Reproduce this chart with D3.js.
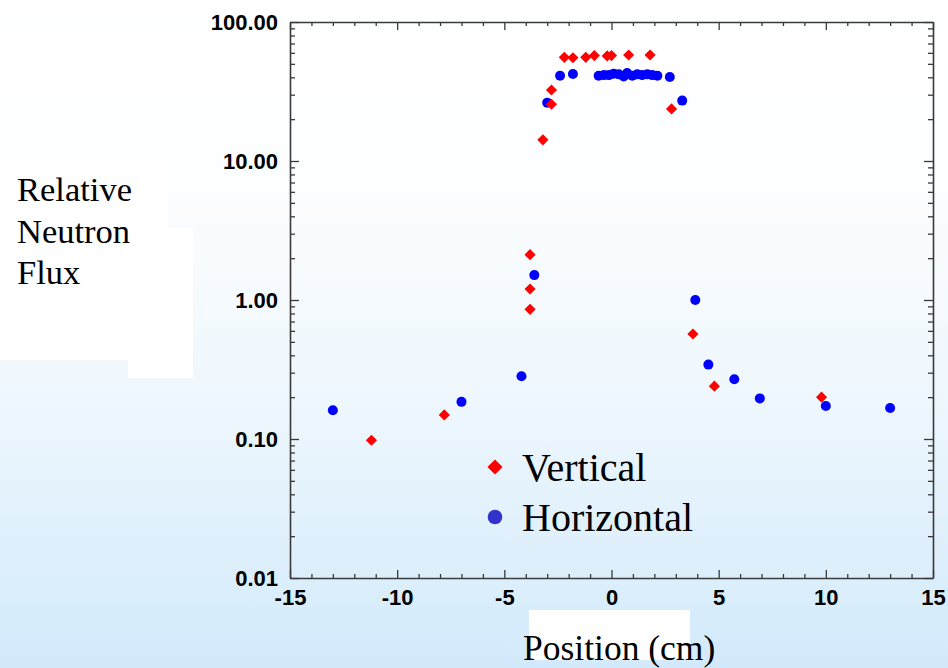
<!DOCTYPE html>
<html>
<head>
<meta charset="utf-8">
<script src="https://cdn.jsdelivr.net/npm/d3@7"></script>
<style>
  html, body { margin: 0; padding: 0; overflow: hidden; }
  svg { display: block; }
</style>
</head>
<body>
<script>
// ---- Data ----
const vertX = [-11.2, -7.8, -3.8, -3.8, -3.8, -3.2, -2.8, -2.8, -2.2, -1.8, -1.2, -0.8, -0.2, 0.0, 0.8, 1.8, 2.8, 3.8, 4.8, 9.8];
const vertY = [0.098, 0.149, 2.12, 1.2, 0.857, 14.2, 25.6, 32.4, 55.7, 55.3, 55.7, 57.3, 57.0, 57.3, 57.9, 57.9, 23.7, 0.569, 0.24, 0.2];

const horizX = [-13.0, -7.0, -4.2, -3.6, -3.0, -2.4, -1.8, -0.6, -0.35, -0.12, 0.1, 0.34, 0.57, 0.73, 0.97, 1.2, 1.43, 1.67, 1.9, 2.14, 2.72, 3.3, 3.91, 4.52, 5.73, 6.92, 10.0, 13.0];
const horizY = [0.161, 0.185, 0.283, 1.51, 26.3, 41.1, 42.3, 41.0, 41.5, 41.5, 42.5, 42.0, 40.5, 43.0, 41.0, 42.0, 41.5, 42.0, 41.5, 41.0, 40.2, 27.2, 1.0, 0.343, 0.269, 0.196, 0.173, 0.167];

const xMajorTicks = [-15, -10, -5, 0, 5, 10, 15];
const yMajorTicks = [0.01, 0.1, 1, 10, 100];
const legendLabels = ["Vertical", "Horizontal"];
const yTitleLines = ["Relative", "Neutron", "Flux"];
const xTitle = "Position (cm)";

// ---- Layout ----
const W = 948, H = 668;
const mLeft = 290, mRight = 933, mTop = 22, mBottom = 578;

const svg = d3.select("body").append("svg").attr("width", W).attr("height", H);

// background gradient
const defs = svg.append("defs");
const grad = defs.append("linearGradient").attr("id", "bg").attr("x1", 0).attr("y1", 0).attr("x2", 0).attr("y2", 1);
grad.append("stop").attr("offset", "0%").attr("stop-color", "#ffffff");
grad.append("stop").attr("offset", "25%").attr("stop-color", "#fdfeff");
grad.append("stop").attr("offset", "60%").attr("stop-color", "#eef7fd");
grad.append("stop").attr("offset", "100%").attr("stop-color", "#d2eafb");
svg.append("rect").attr("width", W).attr("height", H).attr("fill", "url(#bg)");

// white patches behind titles
svg.append("rect").attr("x", 0).attr("y", 155).attr("width", 168).attr("height", 205).attr("fill", "#fff");
svg.append("rect").attr("x", 0).attr("y", 228).attr("width", 193).attr("height", 132).attr("fill", "#fff");
svg.append("rect").attr("x", 128).attr("y", 228).attr("width", 65).attr("height", 150).attr("fill", "#fff");
svg.append("rect").attr("x", 529).attr("y", 610).attr("width", 161).attr("height", 50).attr("fill", "#fff");

// ---- Scales ----
const x = d3.scaleLinear().domain([-15, 15]).range([mLeft, mRight]);
const y = d3.scaleLog().domain([0.01, 100]).range([mBottom, mTop]);

const xMinor = d3.range(-15, 16, 1).filter(v => v % 5 !== 0);
const yMinor = [];
[0.01, 0.1, 1, 10].forEach(d => { for (let k = 2; k <= 9; k++) yMinor.push(d * k); });

const axisColor = "#3a3a3a";
function styleAxis(g) {
  g.selectAll("path.domain").attr("stroke", axisColor).attr("stroke-width", 1.6);
  g.selectAll(".tick line").attr("stroke", axisColor).attr("stroke-width", 1.3);
  g.selectAll("text").attr("font-family", "'Liberation Sans', Arial, sans-serif")
    .attr("font-weight", "bold").attr("font-size", 22).attr("fill", "#000");
}

// Bottom
svg.append("g").attr("transform", `translate(0,${mBottom})`)
  .call(d3.axisBottom(x).tickValues(xMinor).tickSizeInner(-4).tickSizeOuter(0).tickFormat(""))
  .call(g => g.select("path.domain").remove())
  .call(styleAxis);
svg.append("g").attr("transform", `translate(0,${mBottom})`)
  .call(d3.axisBottom(x).tickValues(xMajorTicks).tickSizeInner(-8).tickSizeOuter(0).tickPadding(11).tickFormat(d => String(d)))
  .call(styleAxis);
// Top
svg.append("g").attr("transform", `translate(0,${mTop})`)
  .call(d3.axisTop(x).tickValues(xMinor).tickSizeInner(-4).tickSizeOuter(0).tickFormat(""))
  .call(g => g.select("path.domain").remove())
  .call(styleAxis);
svg.append("g").attr("transform", `translate(0,${mTop})`)
  .call(d3.axisTop(x).tickValues(xMajorTicks).tickSizeInner(-8).tickSizeOuter(0).tickFormat(""))
  .call(styleAxis);
// Left
svg.append("g").attr("transform", `translate(${mLeft},0)`)
  .call(d3.axisLeft(y).tickValues(yMinor).tickSizeInner(-5).tickSizeOuter(0).tickFormat(""))
  .call(g => g.select("path.domain").remove())
  .call(styleAxis);
svg.append("g").attr("transform", `translate(${mLeft},0)`)
  .call(d3.axisLeft(y).tickValues(yMajorTicks).tickSizeInner(-9).tickSizeOuter(0).tickPadding(12).tickFormat(d3.format(".2f")))
  .call(styleAxis);
// Right
svg.append("g").attr("transform", `translate(${mRight},0)`)
  .call(d3.axisRight(y).tickValues(yMinor).tickSizeInner(-5).tickSizeOuter(0).tickFormat(""))
  .call(g => g.select("path.domain").remove())
  .call(styleAxis);
svg.append("g").attr("transform", `translate(${mRight},0)`)
  .call(d3.axisRight(y).tickValues(yMajorTicks).tickSizeInner(-9).tickSizeOuter(0).tickFormat(""))
  .call(styleAxis);

// ---- Points ----
const horiz = horizX.map((v, i) => ({ x: v, y: horizY[i] }));
const vert = vertX.map((v, i) => ({ x: v, y: vertY[i] }));

svg.append("g").selectAll("circle").data(horiz).join("circle")
  .attr("cx", d => x(d.x)).attr("cy", d => y(d.y)).attr("r", 5)
  .attr("fill", "#0000ff");

const diamond = d3.symbol().type(d3.symbolSquare).size(62);
svg.append("g").selectAll("path").data(vert).join("path")
  .attr("d", diamond)
  .attr("transform", d => `translate(${x(d.x)},${y(d.y)}) rotate(45)`)
  .attr("fill", "#ff0000");

// ---- Legend ----
const lg = svg.append("g");
lg.append("path").attr("d", d3.symbol().type(d3.symbolSquare).size(115)())
  .attr("transform", "translate(495,467) rotate(45)").attr("fill", "#ff0000");
lg.append("circle").attr("cx", 495).attr("cy", 517).attr("r", 7.3).attr("fill", "#3333cc");
lg.selectAll("text").data(legendLabels).join("text")
  .attr("x", 522).attr("y", (d, i) => 481 + i * 50)
  .attr("font-family", "'Liberation Serif', 'Times New Roman', serif")
  .attr("font-size", 40).attr("fill", "#000").text(d => d);

// ---- Titles ----
svg.append("g").selectAll("text").data(yTitleLines).join("text")
  .attr("x", 17).attr("y", (d, i) => 201 + i * 41.5)
  .attr("font-family", "'Liberation Serif', 'Times New Roman', serif")
  .attr("font-size", 34.5).attr("fill", "#000").text(d => d);

svg.append("text").attr("x", 523).attr("y", 660)
  .attr("font-family", "'Liberation Serif', 'Times New Roman', serif")
  .attr("font-size", 35.5).attr("fill", "#000").text(xTitle);
</script>
</body>
</html>
